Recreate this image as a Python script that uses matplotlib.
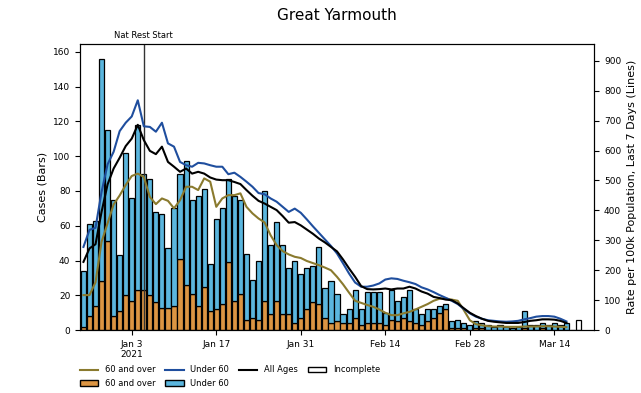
import matplotlib
matplotlib.use("Agg")
import matplotlib.pyplot as plt
import matplotlib.dates as mdates
from matplotlib.lines import Line2D
from matplotlib.patches import Patch
import pandas as pd

# daily cases from 26 Dec 2020, stacked: 60 and over at the bottom
total_cases = [34, 61, 63, 156, 115, 75, 43, 102, 76, 118,
               90, 87, 68, 67, 47, 70, 90, 97, 75, 77,
               81, 38, 64, 70, 87, 77, 75, 44, 29, 40,
               80, 49, 62, 49, 36, 40, 32, 36, 37, 48,
               24, 28, 21, 9, 12, 23, 12, 22, 22, 22,
               10, 23, 17, 19, 23, 12, 9, 12, 12, 14,
               15, 5, 6, 4, 3, 5, 4, 3, 2, 3,
               2, 1, 2, 11, 3, 3, 4, 3, 4, 3,
               4]
over60_cases = [2, 8, 14, 28, 51, 8, 11, 20, 17, 23,
                23, 20, 16, 13, 13, 14, 41, 26, 21, 14,
                25, 11, 12, 15, 39, 17, 21, 6, 7, 6,
                17, 9, 17, 9, 9, 4, 7, 12, 16, 15,
                7, 4, 5, 4, 4, 7, 3, 4, 4, 4,
                3, 6, 5, 7, 5, 4, 3, 5, 7, 10,
                12, 1, 1, 1, 0, 1, 1, 0, 0, 0,
                0, 0, 0, 1, 0, 0, 1, 0, 0, 0,
                0]
incomplete_days = ["2021-03-17", "2021-03-18"]
incomplete_cases = [0, 6]

# rolling 7 day rate per 100k
rate_all = [228, 273, 287, 395, 487, 540, 576, 615, 640, 686,
            635, 599, 588, 613, 562, 546, 529, 540, 523, 529,
            523, 510, 503, 501, 501, 495, 488, 468, 449, 432,
            423, 412, 401, 381, 359, 361, 350, 336, 322, 306,
            293, 278, 263, 236, 206, 178, 147, 137, 136, 137,
            139, 136, 139, 139, 145, 139, 129, 122, 111, 107,
            102, 100, 89, 73, 58, 47, 38, 31, 28, 26,
            24, 24, 24, 27, 31, 33, 36, 36, 35, 31,
            24]
rate_under60 = [278, 335, 342, 462, 554, 596, 665, 693, 714, 768,
                681, 679, 663, 693, 624, 613, 562, 551, 546, 559,
                557, 551, 546, 546, 521, 526, 512, 496, 479, 458,
                454, 440, 429, 412, 395, 406, 392, 370, 347, 325,
                303, 281, 256, 223, 189, 159, 145, 145, 149, 156,
                169, 173, 171, 165, 160, 154, 143, 136, 127, 117,
                108, 98, 87, 71, 56, 45, 38, 33, 31, 29,
                28, 29, 31, 36, 40, 45, 47, 47, 45, 38,
                29]
rate_over60 = [117, 117, 160, 295, 357, 420, 450, 485, 515, 523,
               512, 445, 421, 440, 432, 407, 434, 479, 479, 468,
               507, 496, 412, 440, 451, 451, 457, 412, 390, 373,
               360, 317, 284, 264, 253, 245, 241, 231, 224, 217,
               209, 200, 178, 153, 125, 98, 91, 84, 78, 69,
               58, 50, 50, 56, 61, 69, 78, 87, 98, 105,
               106, 102, 98, 67, 33, 20, 16, 13, 12, 12,
               11, 11, 11, 12, 12, 12, 13, 13, 12, 11,
               10]

tick_days = ["2021-01-03", "2021-01-17", "2021-01-31", "2021-02-14", "2021-02-28", "2021-03-14"]
tick_labels = ["Jan 3\n2021", "Jan 17", "Jan 31", "Feb 14", "Feb 28", "Mar 14"]
lockdown_day = "2021-01-05"

orange = "#DC9543"
cyan = "#5BB6DE"
olive = "#8A7A2E"
blue = "#1F4E9E"

days = pd.date_range("2020-12-26", periods=len(total_cases))
under60_cases = [t - o for t, o in zip(total_cases, over60_cases)]

fig = plt.figure(figsize=(6.41, 3.93), dpi=100)
ax = fig.add_axes([0.125, 0.16, 0.802, 0.728])

ax.bar(days, over60_cases, width=0.85, color=orange, edgecolor="black", linewidth=0.9)
ax.bar(days, under60_cases, bottom=over60_cases, width=0.85, color=cyan, edgecolor="black", linewidth=0.9)
ax.bar(pd.to_datetime(incomplete_days), incomplete_cases, width=0.85, color="white", edgecolor="black", linewidth=0.9)

ax.axvline(pd.Timestamp(lockdown_day), color="#333333", linewidth=1)
ax.text(pd.Timestamp(lockdown_day), 167, "Nat Rest Start", ha="center", va="bottom", fontsize=6)

ax.set_ylim(0, 164.5)
ax.set_yticks(range(0, 161, 20))
ax.set_xlim(mdates.date2num(pd.Timestamp("2020-12-25")) + 0.45,
            mdates.date2num(pd.Timestamp("2021-03-20")) + 0.6)
ax.set_xticks(pd.to_datetime(tick_days))
ax.set_xticklabels(tick_labels)
ax.tick_params(labelsize=6.5)
ax.set_ylabel("Cases (Bars)", fontsize=8)
ax.set_title("Great Yarmouth", fontsize=11, pad=17)

ax2 = ax.twinx()
ax2.plot(days, rate_over60, color=olive, linewidth=1.5)
ax2.plot(days, rate_under60, color=blue, linewidth=1.5)
ax2.plot(days, rate_all, color="black", linewidth=1.5)
ax2.set_ylim(0, 956)
ax2.set_yticks(range(0, 901, 100))
ax2.tick_params(labelsize=6.5)
ax2.set_ylabel("Rate per 100k Population, Last 7 Days (Lines)", fontsize=8)

handles = [
    Line2D([], [], color=olive, linewidth=1.5),
    Patch(facecolor=orange, edgecolor="black"),
    Line2D([], [], color=blue, linewidth=1.5),
    Patch(facecolor=cyan, edgecolor="black"),
    Line2D([], [], color="black", linewidth=1.5),
    Patch(facecolor="white", edgecolor="black"),
]
labels = ["60 and over", "60 and over", "Under 60", "Under 60", "All Ages", "Incomplete"]
fig.legend(handles, labels, ncol=4, loc="upper left", bbox_to_anchor=(0.115, 0.085),
           frameon=False, fontsize=6, handlelength=2.2, columnspacing=1.2,
           labelspacing=0.5, borderpad=0.2)

fig.savefig("out.png", dpi=100)
